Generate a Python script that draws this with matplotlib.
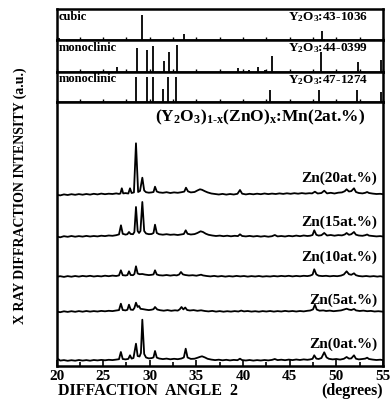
import matplotlib
matplotlib.use("Agg")
import matplotlib.pyplot as plt
from matplotlib.ticker import MultipleLocator

plt.rcParams['font.family'] = ['Liberation Serif', 'DejaVu Serif']
plt.rcParams['font.weight'] = 'bold'
plt.rcParams['mathtext.fontset'] = 'custom'
plt.rcParams['mathtext.rm'] = 'Liberation Serif:bold'
plt.rcParams['mathtext.it'] = 'Liberation Serif:bold'
plt.rcParams['mathtext.bf'] = 'Liberation Serif:bold'

# ---------------- reference patterns (relative stick heights) ----------------
cubic_pos = [20.3, 29.15, 33.7, 48.5]
cubic_h = [0.05, 0.80, 0.18, 0.29]
mono44_pos = [26.5, 28.66, 29.70, 30.34, 31.52, 32.09, 32.95, 39.5, 40.6,
              41.65, 42.4, 43.1, 48.35, 52.35, 54.75]
mono44_h = [0.15, 0.74, 0.69, 0.81, 0.35, 0.63, 0.83, 0.12, 0.06,
            0.17, 0.07, 0.51, 0.63, 0.31, 0.38]
mono47_pos = [28.52, 29.67, 30.31, 31.38, 31.99, 32.77, 42.88, 48.17, 52.17, 54.75]
mono47_h = [0.85, 0.85, 0.85, 0.42, 0.85, 0.85, 0.39, 0.39, 0.39, 0.35]
panel_names = ['cubic', 'monoclinic', 'monoclinic']
panel_cards = [r'Y$_2$O$_3$:43-1036', r'Y$_2$O$_3$:44-0399', r'Y$_2$O$_3$:47-1274']

# ---------------- measured XRD curves (2theta, intensity above baseline) ----------------
zn20 = [(20.0, 0.3), (20.4, -0.4), (20.8, 0.6), (21.2, 0.0), (21.6, 0.8), (22.0, 0.2), (22.4, 0.9),
        (22.8, 0.3), (23.2, 1.0), (23.6, 0.4), (24.0, 1.2), (24.4, 0.6), (24.8, 1.4), (25.2, 0.8),
        (25.6, 1.3), (26.0, 1.0), (26.4, 1.6), (26.7, 1.1), (26.85, 1.5), (27.0, 6.7), (27.15, 1.6),
        (27.4, 1.9), (27.7, 1.5), (27.88, 6.7), (28.05, 2.0), (28.3, 2.6), (28.52, 51.7), (28.75, 3.0),
        (28.95, 4.0), (29.2, 17.3), (29.4, 4.5), (29.6, 2.8), (29.9, 2.3), (30.2, 2.6), (30.4, 3.0),
        (30.56, 8.3), (30.75, 3.5), (31.0, 2.6), (31.4, 2.2), (31.8, 2.8), (32.2, 2.0), (32.6, 2.6),
        (33.0, 2.2), (33.4, 2.8), (33.7, 3.4), (33.88, 7.3), (34.1, 3.6), (34.4, 2.6), (34.8, 3.0),
        (35.1, 4.5), (35.38, 5.7), (35.6, 5.2), (35.9, 3.8), (36.2, 2.6), (36.6, 1.5), (37.0, 1.0),
        (37.4, 0.5), (37.8, 1.1), (38.2, 0.4), (38.6, 1.0), (39.0, 0.5), (39.4, 1.2), (39.67, 5.0),
        (39.9, 1.3), (40.3, 0.6), (40.7, 1.2), (41.1, 0.7), (41.5, 1.3), (41.9, 0.8), (42.3, 1.5),
        (42.7, 0.9), (43.1, 1.4), (43.5, 1.0), (43.9, 1.6), (44.3, 1.1), (44.7, 1.7), (45.1, 1.2),
        (45.5, 1.8), (45.9, 1.3), (46.3, 1.9), (46.7, 1.4), (47.1, 1.8), (47.4, 1.6), (47.7, 3.3),
        (48.0, 1.5), (48.4, 2.0), (48.7, 4.3), (49.0, 1.6), (49.4, 2.2), (49.8, 1.5), (50.2, 2.3),
        (50.6, 2.6), (50.9, 3.8), (51.1, 5.7), (51.35, 3.5), (51.6, 3.9), (51.89, 6.7), (52.1, 3.0),
        (52.4, 2.0), (52.8, 1.6), (53.1, 2.2), (53.3, 3.0), (53.5, 2.0), (53.9, 1.4), (54.3, 1.0),
        (54.7, 1.2), (55.0, 0.8)]
zn15 = [(20.0, 0.5), (20.4, -0.3), (20.8, 0.8), (21.2, 0.2), (21.6, 1.0), (22.0, 0.3), (22.4, 0.9),
        (22.8, 0.4), (23.2, 1.1), (23.6, 0.5), (24.0, 1.0), (24.4, 0.6), (24.8, 1.3), (25.2, 0.9),
        (25.6, 1.5), (26.0, 1.2), (26.4, 1.8), (26.7, 2.6), (26.91, 11.7), (27.1, 3.2), (27.4, 2.4),
        (27.6, 2.8), (27.77, 5.0), (27.95, 3.0), (28.2, 2.8), (28.35, 5.0), (28.52, 30.0), (28.7, 6.0),
        (28.85, 4.0), (29.0, 6.0), (29.2, 35.0), (29.4, 6.0), (29.6, 3.5), (29.9, 2.8), (30.2, 3.0),
        (30.4, 4.0), (30.56, 12.3), (30.75, 4.0), (31.0, 2.8), (31.4, 2.3), (31.8, 2.8), (32.2, 2.2),
        (32.6, 2.5), (33.0, 2.0), (33.4, 2.6), (33.65, 3.0), (33.85, 6.7), (34.05, 3.2), (34.4, 2.5),
        (34.8, 2.9), (35.1, 4.0), (35.45, 5.7), (35.7, 5.0), (36.0, 3.3), (36.3, 2.2), (36.7, 1.5),
        (37.1, 1.0), (37.5, 1.4), (37.9, 0.8), (38.3, 1.3), (38.7, 0.7), (39.1, 1.2), (39.45, 0.9),
        (39.67, 2.7), (39.9, 1.0), (40.3, 0.6), (40.7, 1.1), (41.1, 0.5), (41.5, 1.0), (41.9, 0.4),
        (42.3, 0.9), (42.7, 0.3), (43.1, 0.8), (43.4, 2.0), (43.7, 0.6), (44.1, 1.0), (44.5, 0.5),
        (44.9, 1.2), (45.3, 0.7), (45.7, 1.4), (46.1, 0.8), (46.5, 1.5), (46.9, 1.0), (47.2, 1.3),
        (47.45, 2.0), (47.63, 6.7), (47.85, 2.2), (48.1, 1.4), (48.4, 1.8), (48.7, 4.0), (49.0, 1.5),
        (49.4, 2.0), (49.8, 1.3), (50.2, 1.9), (50.6, 1.6), (50.9, 2.5), (51.1, 4.0), (51.35, 2.2),
        (51.6, 2.8), (51.89, 5.0), (52.1, 2.3), (52.4, 1.5), (52.8, 1.2), (53.1, 1.8), (53.3, 2.5),
        (53.5, 1.4), (53.9, 1.0), (54.3, 0.6), (54.7, 0.9), (55.0, 0.5)]
zn10 = [(20.0, 0.2), (20.4, 0.8), (20.8, 0.1), (21.2, 0.9), (21.6, 0.3), (22.0, 1.0), (22.4, 0.4),
        (22.8, 1.1), (23.2, 0.6), (23.6, 1.2), (24.0, 0.5), (24.4, 1.0), (24.8, 0.6), (25.2, 1.3),
        (25.6, 0.8), (26.0, 1.4), (26.4, 1.0), (26.7, 1.6), (26.9, 6.7), (27.1, 1.8), (27.4, 1.5),
        (27.6, 1.9), (27.77, 5.7), (27.95, 2.0), (28.2, 1.8), (28.35, 3.0), (28.52, 10.7), (28.7, 3.5),
        (28.9, 2.8), (29.2, 3.0), (29.5, 2.4), (29.9, 1.9), (30.2, 2.2), (30.4, 2.6), (30.56, 6.7),
        (30.75, 2.5), (31.0, 1.8), (31.4, 1.5), (31.8, 2.0), (32.2, 1.4), (32.6, 1.9), (32.9, 1.6),
        (33.15, 2.5), (33.34, 5.0), (33.55, 2.6), (33.8, 2.0), (34.2, 1.5), (34.6, 1.8), (35.0, 1.3),
        (35.3, 1.9), (35.5, 2.3), (35.7, 1.6), (36.1, 1.0), (36.5, 0.6), (36.9, 1.1), (37.3, 0.5),
        (37.7, 1.0), (38.1, 0.4), (38.5, 0.9), (38.9, 0.5), (39.3, 1.1), (39.7, 0.6), (40.1, 1.0),
        (40.5, 0.4), (40.9, 0.9), (41.3, 0.5), (41.7, 1.0), (42.1, 0.4), (42.5, 0.8), (42.9, 0.5),
        (43.3, 1.0), (43.7, 0.6), (44.1, 1.1), (44.5, 0.7), (44.9, 1.2), (45.3, 0.6), (45.7, 1.1),
        (46.1, 0.7), (46.5, 1.2), (46.9, 0.9), (47.2, 1.4), (47.45, 2.4), (47.63, 7.7), (47.85, 2.6),
        (48.1, 1.3), (48.5, 0.9), (48.9, 1.2), (49.3, 0.7), (49.7, 1.1), (50.1, 0.8), (50.5, 1.4),
        (50.8, 2.5), (51.1, 5.7), (51.35, 2.8), (51.6, 2.2), (51.89, 3.7), (52.1, 1.8), (52.4, 1.0),
        (52.8, 0.6), (53.2, 1.0), (53.6, 0.5), (54.0, 0.9), (54.4, 0.4), (54.7, 0.8), (55.0, 0.3)]
zn5 = [(20.0, 0.4), (20.4, -0.2), (20.8, 0.7), (21.2, 0.1), (21.6, 0.8), (22.0, 0.2), (22.4, 0.9),
       (22.8, 0.3), (23.2, 1.0), (23.6, 0.4), (24.0, 0.9), (24.4, 0.5), (24.8, 1.1), (25.2, 0.7),
       (25.6, 1.2), (26.0, 0.9), (26.4, 1.5), (26.7, 1.9), (26.9, 8.3), (27.1, 2.0), (27.4, 1.6),
       (27.6, 2.2), (27.77, 7.3), (27.95, 2.4), (28.2, 2.1), (28.35, 4.0), (28.52, 9.3), (28.7, 5.0),
       (28.85, 6.0), (29.0, 3.2), (29.3, 2.8), (29.6, 2.3), (29.9, 1.9), (30.2, 2.3), (30.4, 2.8),
       (30.56, 5.0), (30.8, 2.5), (31.1, 1.8), (31.5, 1.3), (31.9, 1.9), (32.3, 1.2), (32.7, 1.7),
       (33.0, 1.4), (33.2, 2.6), (33.4, 5.0), (33.6, 2.6), (33.8, 4.5), (34.0, 2.0), (34.3, 1.5),
       (34.7, 1.9), (35.1, 1.2), (35.5, 1.7), (35.9, 1.0), (36.3, 0.6), (36.7, 1.1), (37.1, 0.4),
       (37.5, 0.9), (37.9, 0.3), (38.3, 0.8), (38.7, 0.4), (39.1, 0.9), (39.5, 0.5), (39.8, 1.4),
       (40.1, 0.6), (40.5, 1.0), (40.9, 0.4), (41.3, 0.8), (41.7, 0.3), (42.1, 0.9), (42.5, 0.5),
       (42.9, 1.0), (43.3, 0.4), (43.7, 0.9), (44.1, 0.5), (44.5, 1.1), (44.9, 0.6), (45.3, 1.0),
       (45.7, 0.5), (46.1, 1.0), (46.5, 0.6), (46.9, 1.2), (47.2, 1.5), (47.5, 2.6), (47.7, 7.3),
       (47.9, 2.4), (48.2, 1.3), (48.6, 1.6), (48.9, 1.0), (49.3, 1.4), (49.7, 0.8), (50.1, 1.2),
       (50.5, 1.6), (50.8, 2.4), (51.1, 3.3), (51.35, 2.4), (51.6, 2.0), (51.9, 3.0), (52.1, 1.6),
       (52.5, 1.0), (52.9, 1.4), (53.3, 0.8), (53.7, 1.1), (54.1, 0.5), (54.5, 0.8), (55.0, 0.3)]
zn0 = [(20.0, 0.5), (20.2, 1.8), (20.4, 0.4), (20.8, 0.9), (21.2, 0.2), (21.6, 0.8), (22.0, 0.3),
       (22.4, 1.0), (22.8, 0.4), (23.2, 0.9), (23.6, 0.3), (24.0, 1.0), (24.4, 0.6), (24.8, 1.1),
       (25.2, 0.7), (25.6, 1.2), (26.0, 0.9), (26.4, 1.4), (26.7, 1.8), (26.9, 9.0), (27.1, 2.0),
       (27.4, 1.6), (27.7, 2.1), (27.88, 5.7), (28.05, 2.4), (28.25, 3.0), (28.52, 17.3), (28.7, 5.0),
       (28.9, 4.5), (29.05, 8.0), (29.2, 41.3), (29.4, 7.0), (29.6, 3.5), (29.9, 2.6), (30.2, 2.9),
       (30.4, 3.6), (30.56, 10.0), (30.75, 3.4), (31.0, 2.5), (31.4, 1.9), (31.8, 2.4), (32.2, 1.7),
       (32.6, 2.2), (33.0, 1.8), (33.4, 2.5), (33.65, 3.5), (33.85, 12.3), (34.05, 3.5), (34.4, 2.1),
       (34.8, 2.3), (35.1, 3.2), (35.4, 4.2), (35.6, 4.7), (35.9, 3.6), (36.2, 2.2), (36.6, 1.4),
       (37.0, 0.9), (37.4, 1.3), (37.8, 0.7), (38.2, 1.2), (38.6, 0.6), (39.0, 1.1), (39.4, 0.8),
       (39.67, 2.3), (39.9, 0.9), (40.3, 0.5), (40.7, 1.0), (41.1, 0.4), (41.5, 0.9), (41.9, 0.5),
       (42.3, 1.0), (42.7, 0.6), (43.1, 1.1), (43.4, 2.0), (43.7, 0.9), (44.1, 1.3), (44.5, 0.8),
       (44.9, 1.4), (45.3, 0.9), (45.7, 1.5), (46.1, 1.0), (46.5, 1.6), (46.9, 1.2), (47.2, 1.6),
       (47.45, 2.2), (47.63, 5.7), (47.85, 2.4), (48.1, 2.0), (48.4, 3.0), (48.7, 8.7), (48.95, 3.6),
       (49.2, 2.2), (49.6, 1.6), (50.0, 2.0), (50.4, 1.4), (50.8, 2.2), (51.1, 4.0), (51.35, 2.4),
       (51.6, 2.6), (51.89, 5.7), (52.1, 2.3), (52.4, 1.6), (52.8, 2.0), (53.1, 2.4), (53.3, 3.3),
       (53.5, 2.0), (53.9, 1.4), (54.3, 1.0), (54.7, 1.3), (55.0, 0.9)]

series = [zn20, zn15, zn10, zn5, zn0]
series_labels = ['Zn(20at.%)', 'Zn(15at.%)', 'Zn(10at.%)', 'Zn(5at.%)', 'Zn(0at.%)']
x_ticks = [20, 25, 30, 35, 40, 45, 50, 55]

# ---------------- layout / style ----------------
offsets = [171, 129, 89, 54, 5]
label_y = [188, 144, 109, 65.5, 22]
LW_SPINE = 1.8
W, H = 390, 408
fig = plt.figure(figsize=(W / 100, H / 100), dpi=100)
left = 56.5 / W
width = (383 - 56.5) / W

def fy(px):
    return 1 - px / H

panel_bounds = [(9, 40), (40, 72), (72, 102)]
main_bounds = (102, 366)

def style_axis(ax):
    for s in ax.spines.values():
        s.set_linewidth(LW_SPINE)
    ax.set_xlim(20, 55)
    ax.tick_params(axis='y', left=False, right=False, labelleft=False)

sticks = [(cubic_pos, cubic_h), (mono44_pos, mono44_h), (mono47_pos, mono47_h)]
for i, (t, b) in enumerate(panel_bounds):
    ax = fig.add_axes([left, fy(b), width, fy(t) - fy(b)])
    style_axis(ax)
    ax.set_ylim(0, 1)
    pos, h = sticks[i]
    ax.vlines(pos, 0, h, color='black', lw=1.3)
    ax.xaxis.set_major_locator(MultipleLocator(5))
    ax.xaxis.set_minor_locator(MultipleLocator(2.5))
    ax.tick_params(axis='x', which='both', direction='in', length=2.5, width=1,
                   labelbottom=False, top=False)
    ax.text(0.008, 0.95, panel_names[i], transform=ax.transAxes, ha='left', va='top',
            fontsize=9, fontweight='bold')
    ax.text(0.955, 0.95, panel_cards[i], transform=ax.transAxes, ha='right', va='top',
            fontsize=9.5, fontweight='bold')

ax = fig.add_axes([left, fy(main_bounds[1]), width, fy(main_bounds[0]) - fy(main_bounds[1])])
style_axis(ax)
ax.set_ylim(0, 264)
for data, off in zip(series, offsets):
    xs = [p[0] for p in data]
    ys = [p[1] + off for p in data]
    ax.plot(xs, ys, color='black', lw=1.3)
for lab, yy in zip(series_labels, label_y):
    ax.text(54.4, yy, lab, ha='right', va='center', fontsize=11, fontweight='bold')
ax.text(53.1, 249, r'(Y$_2$O$_3$)$_{1\text{-}x}$(ZnO)$_x$:Mn(2at.%)', ha='right', va='center',
        fontsize=12.5, fontweight='bold')
ax.set_xticks(x_ticks)
ax.xaxis.set_minor_locator(MultipleLocator(2.5))
ax.tick_params(axis='x', which='major', direction='in', length=4, width=1.2,
               labelsize=11, pad=3, top=False)
ax.tick_params(axis='x', which='minor', direction='in', length=3, width=1.2, top=False)
for lbl in ax.get_xticklabels():
    lbl.set_fontweight('bold')

fig.text(58 / W, fy(391), 'DIFFACTION  ANGLE  2', ha='left', va='center',
         fontsize=11.5, fontweight='bold')
fig.text(383 / W, fy(391), '(degrees)', ha='right', va='center',
         fontsize=11.5, fontweight='bold')
fig.text(20 / W, fy(196), 'X RAY DIFFRACTION INTENSITY (a.u.)', ha='center', va='center',
         rotation=90, fontsize=10, fontweight='bold')

fig.savefig('out.png', dpi=100)
